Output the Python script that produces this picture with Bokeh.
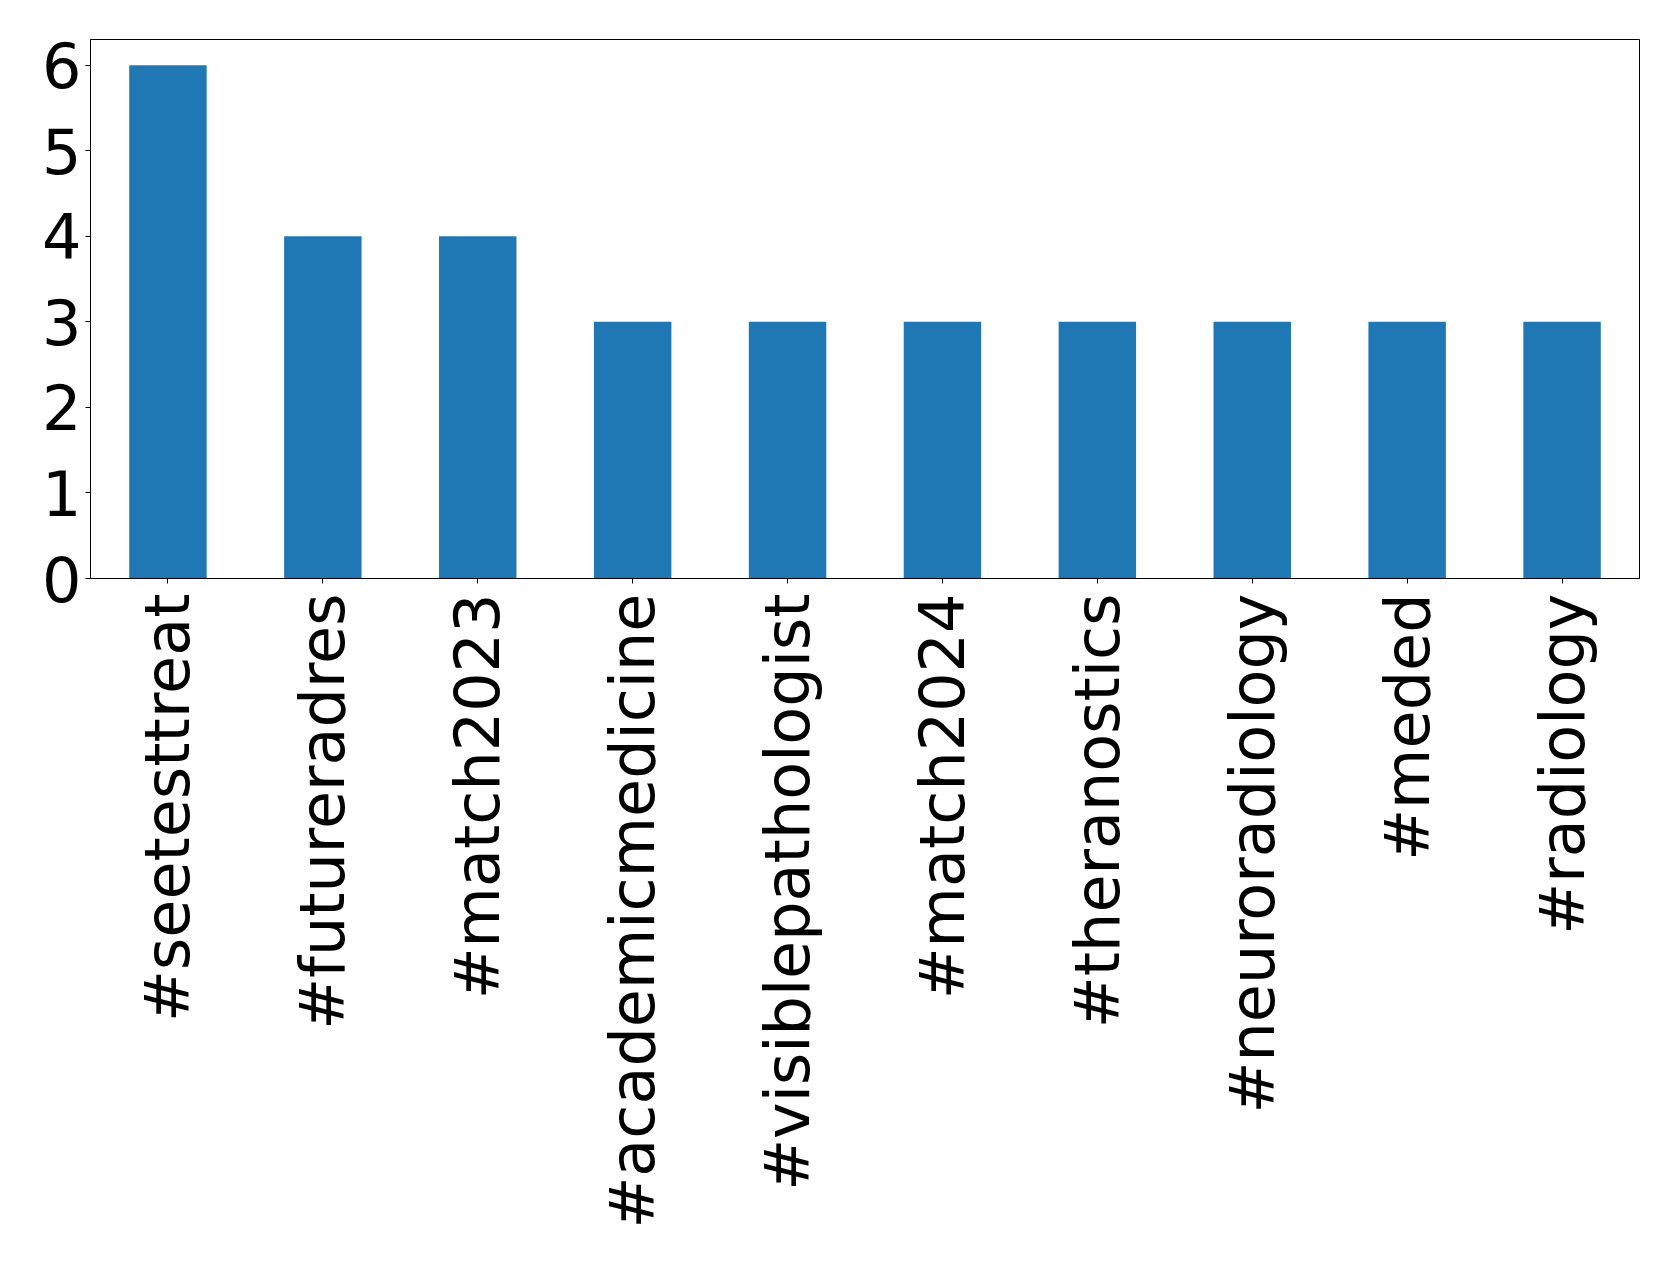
import math
from bokeh.plotting import figure
from bokeh.models import FactorRange, FixedTicker, ColumnDataSource
from bokeh.embed import file_html
from bokeh.resources import INLINE

hashtags = ["#seetesttreat", "#futureradres", "#match2023", "#academicmedicine",
            "#visiblepathologist", "#match2024", "#theranostics", "#neuroradiology",
            "#meded", "#radiology"]
counts = [6, 4, 4, 3, 3, 3, 3, 3, 3, 3]
y_ticks = [0, 1, 2, 3, 4, 5, 6]

src = ColumnDataSource(dict(x=hashtags, top=counts))

p = figure(x_range=FactorRange(factors=hashtags, range_padding=0),
           y_range=(0, 6.3),
           frame_width=1549, frame_height=539,
           output_backend="svg", toolbar_location=None,
           min_border_left=90, min_border_top=39, min_border_right=20,
           min_border_bottom=20)

p.vbar(x="x", top="top", width=0.5, source=src, color="#1f77b4", line_color=None)

p.xgrid.visible = False
p.ygrid.visible = False
p.outline_line_color = "black"
p.outline_line_width = 1
p.outline_line_alpha = 1
p.background_fill_color = "white"
p.border_fill_color = "white"

p.yaxis.ticker = FixedTicker(ticks=y_ticks)
p.yaxis.minor_tick_line_color = None
for ax in (p.xaxis, p.yaxis):
    ax.axis_line_color = "black"
    ax.major_tick_line_color = "black"
    ax.major_tick_out = 5
    ax.major_tick_in = 0
    ax.major_label_text_font = "DejaVu Sans"
    ax.major_label_text_font_size = "62px"
    ax.major_label_text_color = "black"

p.yaxis.major_label_standoff = 4
p.xaxis.major_label_standoff = 10
p.xaxis.major_label_orientation = math.pi / 2
p.xaxis.group_text_font_size = "0px"

open("out.html", "w").write(file_html(p, INLINE))
